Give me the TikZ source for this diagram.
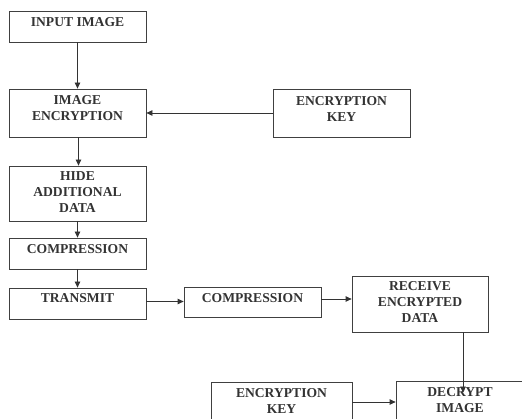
\documentclass[tikz,border=0pt]{standalone}
\usepackage{fontspec}
\setmainfont{Liberation Serif}
\usetikzlibrary{arrows.meta,calc}
\begin{document}
\begin{tikzpicture}[x=1pt,y=-1pt,
  box/.style={draw=black!75,line width=0.8pt,rectangle,inner sep=0pt},
  lbl/.style={anchor=north,inner sep=0pt,align=center,yshift=-6.5pt,
    font=\fontsize{13.6}{16}\selectfont\bfseries,text=black!80},
  arr/.style={draw=black!80,line width=0.8pt,-{Triangle[length=6pt,width=5.5pt]}}]
\useasboundingbox (0,0) rectangle (522,419);
\clip (0,0) rectangle (522,419);
\node[box,minimum width=137pt,minimum height=31pt] (inp) at (77.5,26.5) {};
\node[lbl] (tinp) at (inp.north) {INPUT IMAGE};
\node[box,minimum width=137pt,minimum height=48pt] (enc) at (77.5,113) {};
\node[lbl] (tenc) at (enc.north) {IMAGE\\ENCRYPTION};
\node[box,minimum width=137pt,minimum height=48pt] (key) at (341.5,113) {};
\node[lbl,yshift=-1pt] (tkey) at (key.north) {ENCRYPTION\\KEY};
\node[box,minimum width=137pt,minimum height=55pt] (hide) at (77.5,193.5) {};
\node[lbl,yshift=1pt] (thide) at (hide.north) {HIDE\\ADDITIONAL\\DATA};
\node[box,minimum width=137pt,minimum height=31pt] (cmp) at (77.5,253.5) {};
\node[lbl] (tcmp) at (cmp.north) {COMPRESSION};
\node[box,minimum width=137pt,minimum height=31pt] (tr) at (77.5,303.5) {};
\node[lbl,yshift=1pt] (ttr) at (tr.north) {TRANSMIT};
\node[box,minimum width=137pt,minimum height=30pt] (cmp2) at (252.5,302) {};
\node[lbl] (tcmp2) at (cmp2.north) {COMPRESSION};
\node[box,minimum width=136pt,minimum height=56pt] (rec) at (420,304) {};
\node[lbl,yshift=0.5pt] (trec) at (rec.north) {RECEIVE\\ENCRYPTED\\DATA};
\node[box,minimum width=141pt,minimum height=48pt] (kb) at (281.5,406) {};
\node[lbl,yshift=-0.5pt] (tkb) at (kb.north) {ENCRYPTION\\KEY};
\node[box,minimum width=128pt,minimum height=48pt] (dec) at (460,405) {};
\node[lbl] (tdec) at (dec.north) {DECRYPT\\IMAGE};
\draw[arr] (inp.south) -- (enc.north);
\draw[arr] (key.west) -- (enc.east);
\draw[arr] ([xshift=1pt]enc.south) -- ([xshift=1pt]hide.north);
\draw[arr] (hide.south) -- (cmp.north);
\draw[arr] (cmp.south) -- (tr.north);
\draw[arr] ([yshift=2pt]tr.east) -- ([yshift=2pt]tr.east -| cmp2.west);
\draw[arr] ([yshift=3pt]cmp2.east) -- ([yshift=3pt]cmp2.east -| rec.west);
\draw[arr,shorten >=-12pt] ([xshift=43pt]rec.south) -- ([xshift=43pt]rec.south |- dec.north);
\draw[arr] ([yshift=4pt]kb.east) -- ([yshift=4pt]kb.east -| dec.west);
\end{tikzpicture}
\end{document}
